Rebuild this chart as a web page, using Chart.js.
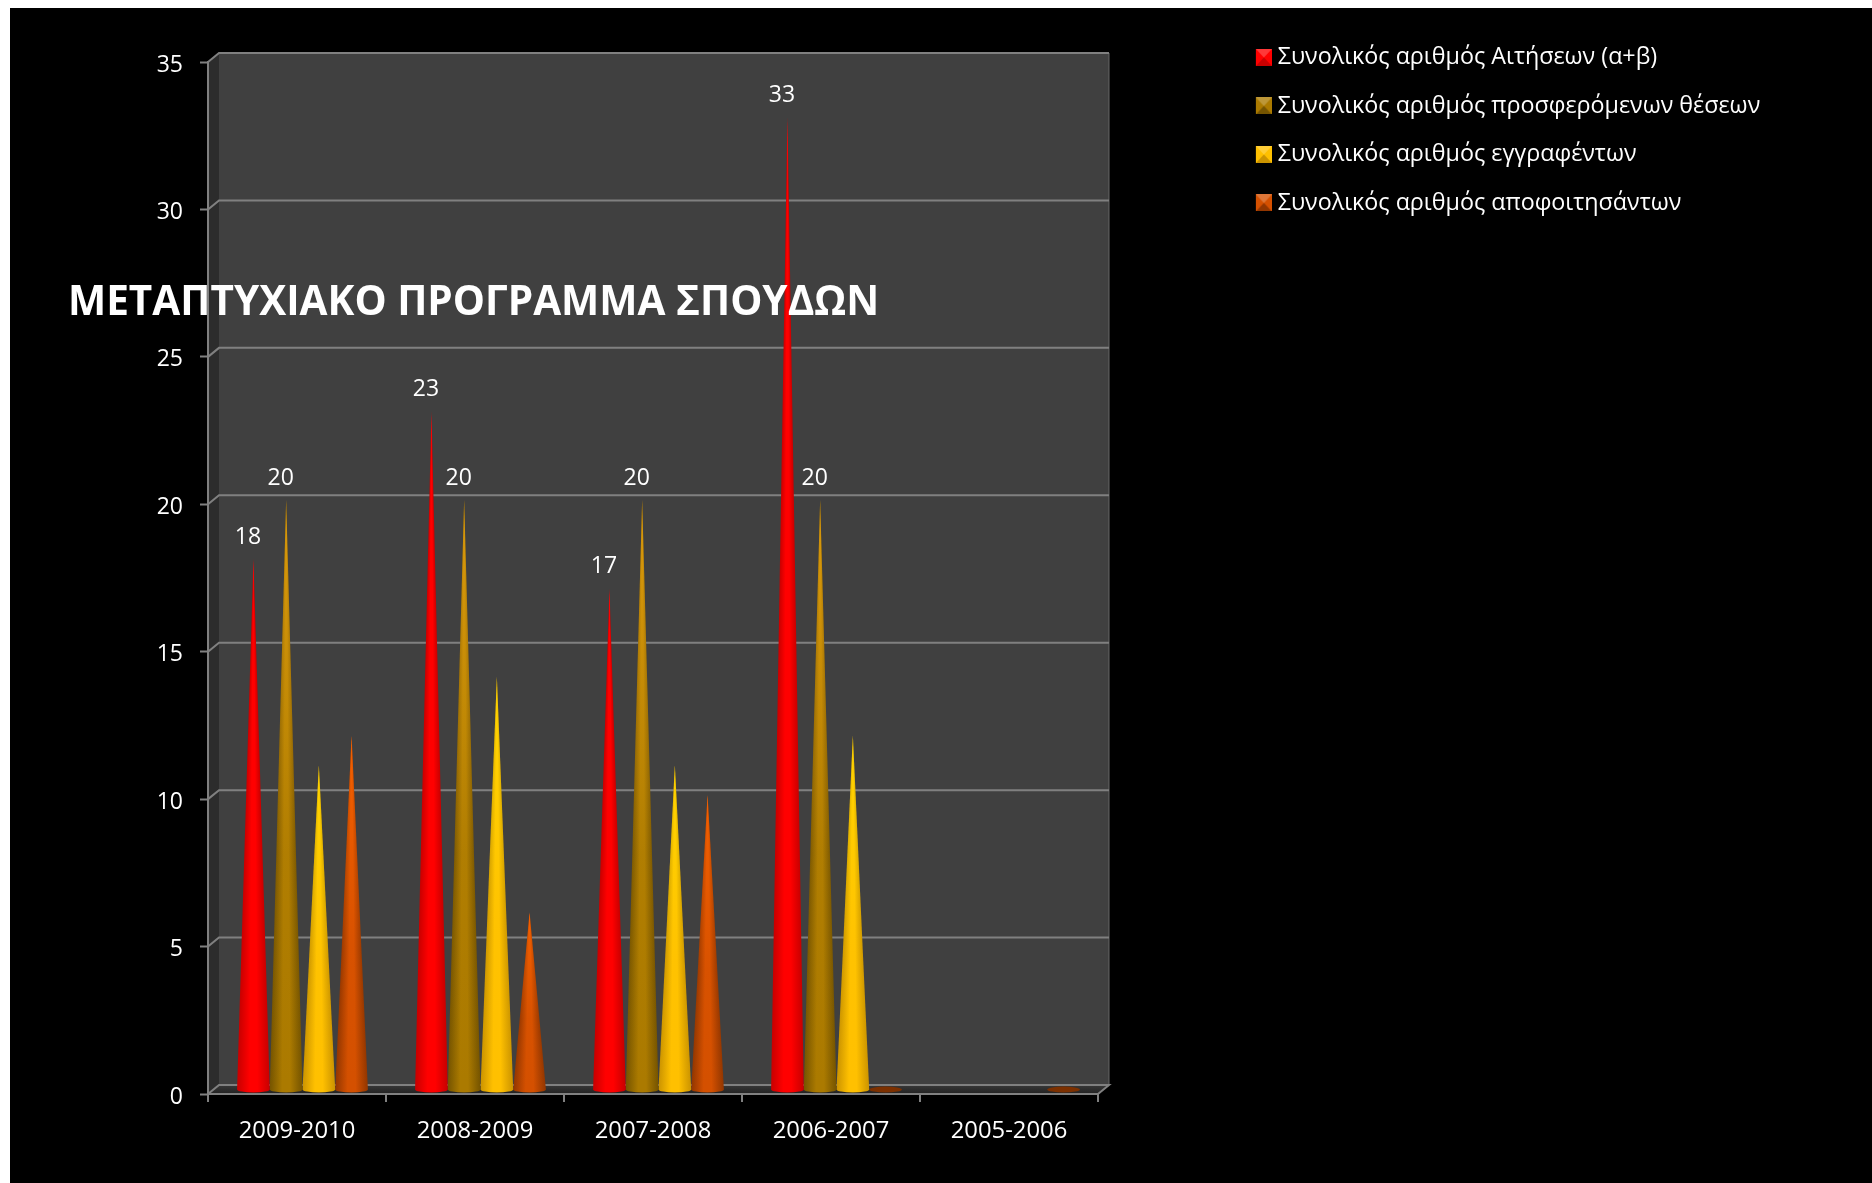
<!DOCTYPE html>
<html><head><meta charset="utf-8">
<title>ΜΕΤΑΠΤΥΧΙΑΚΟ ΠΡΟΓΡΑΜΜΑ ΣΠΟΥΔΩΝ</title>
<style>
html,body{margin:0;padding:0;background:#fff;width:1872px;height:1183px;overflow:hidden}
#bg{position:absolute;left:10px;top:8px;right:0;bottom:0;background:#000}
canvas{position:absolute;left:0;top:0}
</style>
<script src="https://cdn.jsdelivr.net/npm/chart.js@4"></script>
</head><body><div id="bg"></div><canvas id="c" width="1872" height="1183"></canvas>
<script>
const chartTitle = 'ΜΕΤΑΠΤΥΧΙΑΚΟ ΠΡΟΓΡΑΜΜΑ ΣΠΟΥΔΩΝ';
const categories = ['2009-2010','2008-2009','2007-2008','2006-2007','2005-2006'];
const applications = [18,23,17,33,null];
const offeredPlaces = [20,20,20,20,null];
const enrolled = [11,14,11,12,null];
const graduates = [12,6,10,0,0];
const seriesNames = ['Συνολικός αριθμός Αιτήσεων (α+β)','Συνολικός αριθμός προσφερόμενων θέσεων','Συνολικός αριθμός εγγραφέντων','Συνολικός αριθμός αποφοιτησάντων'];
const centerColors = ['#ff0000','#ab7a00','#ffc000','#d45000'];
const edgeColors = ['#c80000','#755400','#cc9400','#923600'];
const tipTints = [[255,0,0,0],[235,165,15,.75],[255,225,0,.6],[255,100,0,.75]];
const labelledSeries = [0,1];
const FONT = '"Open Sans", sans-serif';
const DX = 11, DY = 9;
const GRID = '#808080';

class ConeElement extends Chart.BarElement {
  draw(ctx) {
    const {x, y, base, width} = this.getProps(['x','y','base','width']);
    const c = this.options.backgroundColor, e = this.options.borderColor;
    const cx = x + DX / 2, by = base - 4, ty = y - DY / 2, r = width / 2, ry = 3;
    ctx.save();
    if (Math.abs(base - y) < 1) {
      ctx.fillStyle = '#7c3000';
      ctx.beginPath(); ctx.ellipse(cx, base - DY / 2, r, ry, 0, 0, Math.PI * 2); ctx.fill();
      ctx.restore(); return;
    }
    const a = Math.atan(r / (by - ty));
    const t = 2 * a / (2 * Math.PI);
    const g = ctx.createConicGradient(Math.PI / 2 - a, cx, ty);
    g.addColorStop(0, e); g.addColorStop(t * .38, c); g.addColorStop(t * .62, c);
    g.addColorStop(t, e); g.addColorStop(Math.min(1, t * 1.5), e); g.addColorStop(1, e);
    ctx.beginPath();
    ctx.moveTo(cx, ty);
    ctx.lineTo(cx + r, by);
    ctx.ellipse(cx, by, r, ry, 0, 0, Math.PI);
    ctx.closePath();
    ctx.fillStyle = g; ctx.fill();
    const tint = tipTints[centerColors.indexOf(c)] || [0,0,0,0];
    const rgb = tint.slice(0, 3).join(',');
    const v = ctx.createLinearGradient(0, ty, 0, by);
    v.addColorStop(0, 'rgba(' + rgb + ',' + tint[3] + ')');
    v.addColorStop(.6, 'rgba(' + rgb + ',' + tint[3] * .12 + ')');
    v.addColorStop(1, 'rgba(' + rgb + ',0)');
    ctx.fillStyle = v; ctx.fill();
    ctx.restore();
  }
}
ConeElement.id = 'cone';
class ConeController extends Chart.BarController {}
ConeController.id = 'cone';
ConeController.defaults = {dataElementType: 'cone'};
Chart.register(ConeElement, ConeController);

function legendIcon(c, e) {
  const cv = document.createElement('canvas'); cv.width = 22; cv.height = 17;
  const g = cv.getContext('2d'), L = 6, R = 22, T = 0, B = 17, mx = 14, my = 8.5;
  const tri = (col, x1, y1, x2, y2) => { g.fillStyle = col; g.beginPath(); g.moveTo(x1, y1); g.lineTo(x2, y2); g.lineTo(mx, my); g.closePath(); g.fill(); };
  g.fillStyle = c; g.fillRect(L, T, 16, 17);
  tri(e, L, B, R, B);
  tri('rgba(255,255,255,.22)', L, T, R, T);
  return cv;
}
const icons = centerColors.map((c, i) => legendIcon(c, edgeColors[i]));

const roomPlugin = {
  id: 'room',
  beforeLayout(chart) {
    const t = chart.titleBlock;
    if (t) t._layers = () => [{z: 10, draw: ca => t.draw(ca)}];
  },
  afterLayout(chart) {
    const l = chart.legend;
    l.left = 1230.5; l.right = 1860; l.top = 20.6; l.bottom = 400;
    const t = chart.titleBlock;
    t.left = 68; t.right = 900; t.top = 279; t.bottom = 279 + t.height;
  },
  beforeDraw(chart) {
    const {ctx, chartArea: a, scales: {y}} = chart;
    const top = a.top, bot = a.bottom, L = a.left, R = a.right;
    ctx.save();
    ctx.fillStyle = '#404040'; ctx.fillRect(L + DX, top - DY, R - L, bot - top);
    ctx.fillStyle = '#2c2c2c';
    ctx.beginPath(); ctx.moveTo(L, top); ctx.lineTo(L + DX, top - DY); ctx.lineTo(L + DX, bot - DY); ctx.lineTo(L, bot); ctx.closePath(); ctx.fill();
    const fg = ctx.createLinearGradient(0, bot - DY, 0, bot);
    fg.addColorStop(0, '#383838'); fg.addColorStop(1, '#222222');
    ctx.fillStyle = fg;
    ctx.beginPath(); ctx.moveTo(L, bot); ctx.lineTo(L + DX, bot - DY); ctx.lineTo(R + DX, bot - DY); ctx.lineTo(R, bot); ctx.closePath(); ctx.fill();
    ctx.strokeStyle = '#666666'; ctx.lineWidth = 1;
    ctx.beginPath(); ctx.moveTo(R + DX, top - DY); ctx.lineTo(R + DX, bot - DY); ctx.stroke();
    ctx.strokeStyle = GRID; ctx.lineWidth = 2;
    y.ticks.forEach(t => {
      const p = y.getPixelForValue(t.value);
      ctx.beginPath(); ctx.moveTo(L, p); ctx.lineTo(L + DX, p - DY); ctx.lineTo(R + DX, p - DY);
      if (t.value === 0) ctx.lineTo(R, p);
      ctx.stroke();
    });
    ctx.restore();
  },
  afterDatasetsDraw(chart) {
    const {ctx} = chart;
    ctx.save();
    ctx.fillStyle = '#fff'; ctx.font = '23px ' + FONT; ctx.textAlign = 'center'; ctx.textBaseline = 'middle';
    labelledSeries.forEach(si => {
      const ds = chart.data.datasets[si];
      chart.getDatasetMeta(si).data.forEach((el, i) => {
        const v = ds.data[i];
        if (v !== null && v !== 0) ctx.fillText(String(v), el.x, el.y - 26);
      });
    });
    ctx.restore();
  }
};

const seriesValues = [applications, offeredPlaces, enrolled, graduates];
new Chart(document.getElementById('c'), {
  type: 'cone',
  data: {
    labels: categories,
    datasets: seriesNames.map((n, i) => ({
      label: n, data: seriesValues[i],
      backgroundColor: centerColors[i], borderColor: edgeColors[i], borderWidth: 0,
      barPercentage: 1, categoryPercentage: .735, clip: false
    }))
  },
  plugins: [roomPlugin],
  options: {
    responsive: false, animation: false, devicePixelRatio: 1,
    layout: {padding: {top: 13.4, right: 774, bottom: 0, left: 0}},
    plugins: {
      tooltip: {enabled: false},
      title: {display: true, text: chartTitle, color: '#fff', align: 'start', padding: 0,
        font: {family: FONT, size: 40.5, weight: 'bold'}},
      legend: {
        position: 'chartArea', align: 'start',
        labels: {
          color: '#fff', font: {family: FONT, size: 23.3}, padding: 25.2,
          usePointStyle: true, boxWidth: 10.35, boxHeight: 17,
          generateLabels(chart) {
            return Chart.defaults.plugins.legend.labels.generateLabels(chart).map((it, i) => ({...it, pointStyle: icons[i]}));
          }
        }
      }
    },
    scales: {
      x: {
        type: 'category', offset: true,
        afterFit(s) { s.height = 89; },
        grid: {offset: true, drawOnChartArea: false, drawTicks: true, tickLength: 8, tickWidth: 2, tickColor: GRID, lineWidth: 2, color: GRID},
        border: {color: GRID, width: 2},
        ticks: {color: '#fff', padding: 14.5, font: {family: FONT, size: 23.8}, maxRotation: 0}
      },
      y: {
        min: 0, max: 35,
        afterFit(s) { s.width = 208; },
        grid: {drawOnChartArea: false, drawTicks: true, tickLength: 8, tickWidth: 2, tickColor: GRID, color: GRID},
        border: {color: GRID, width: 2},
        ticks: {stepSize: 5, color: '#fff', padding: 17, labelOffset: 3, font: {family: FONT, size: 23}}
      }
    }
  }
});
</script></body></html>
